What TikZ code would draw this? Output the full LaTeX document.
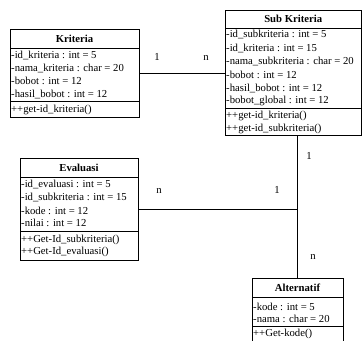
\documentclass[tikz,border=0pt]{standalone}
\usepackage{fontspec}
\setmainfont{Liberation Serif}
\begin{document}
\begin{tikzpicture}[x=1pt,y=-1pt,
 cls/.style={draw, line width=0.8pt, inner sep=0pt, outer sep=0pt},
 sepline/.style={line width=0.8pt},
 conn/.style={line width=0.8pt},
 ttl/.style={font=\fontsize{10.7}{13}\selectfont\bfseries, inner sep=0pt},
 row/.style={font=\fontsize{10.7}{13}\selectfont, inner sep=0pt, anchor=west},
 mult/.style={font=\fontsize{10.7}{13}\selectfont, inner sep=0pt}]
\useasboundingbox (0,0) rectangle (363,340);
\begin{scope}
\clip (0,0) rectangle (363,340);
% Kriteria
\node[cls, minimum width=129pt, minimum height=88pt] (krit) at (74.5,73) {};
\node[ttl] (kt) at (74.5,38.5) {Kriteria};
\draw[sepline] (krit.west |- 0,48) -- (krit.east |- 0,48);
\node[row] (k1) at (11,55) {-id\_kriteria : int = 5};
\node[row] (k2) at (11,68) {-nama\_kriteria : char = 20};
\node[row] (k3) at (11,81) {-bobot : int = 12};
\node[row] (k4) at (11,94) {-hasil\_bobot : int = 12};
\draw[sepline] (krit.west |- 0,101.5) -- (krit.east |- 0,101.5);
\node[row] (k5) at (11,109.5) {++get-id\_kriteria()};
% Sub Kriteria
\node[cls, minimum width=136.5pt, minimum height=125pt] (sub) at (293.25,72.5) {};
\node[ttl] (st) at (293.25,19) {Sub Kriteria};
\draw[sepline] (sub.west |- 0,28) -- (sub.east |- 0,28);
\node[row] (s1) at (226,34.5) {-id\_subkriteria : int = 5};
\node[row] (s2) at (226,48) {-id\_kriteria : int = 15};
\node[row] (s3) at (226,61.5) {-nama\_subkriteria : char = 20};
\node[row] (s4) at (226,75) {-bobot : int = 12};
\node[row] (s5) at (226,88) {-hasil\_bobot : int = 12};
\node[row] (s6) at (226,101) {-bobot\_global : int = 12};
\draw[sepline] (sub.west |- 0,108) -- (sub.east |- 0,108);
\node[row] (s7) at (226,116) {++get-id\_kriteria()};
\node[row] (s8) at (226,128.5) {++get-id\_subkriteria()};
% Evaluasi
\node[cls, minimum width=118pt, minimum height=102pt] (eval) at (79,209) {};
\node[ttl] (et) at (79,167.5) {Evaluasi};
\draw[sepline] (eval.west |- 0,177) -- (eval.east |- 0,177);
\node[row] (e1) at (21,184.5) {-id\_evaluasi : int = 5};
\node[row] (e2) at (21,197.5) {-id\_subkriteria : int = 15};
\node[row] (e3) at (21,210.5) {-kode : int = 12};
\node[row] (e4) at (21,223) {-nilai : int = 12};
\draw[sepline] (eval.west |- 0,231.5) -- (eval.east |- 0,231.5);
\node[row] (e5) at (21,239.5) {++Get-Id\_subkriteria()};
\node[row] (e6) at (21,251.5) {++Get-Id\_evaluasi()};
% Alternatif
\node[cls, minimum width=91pt, minimum height=68pt] (alt) at (297.5,312) {};
\node[ttl] (at) at (297.5,287.5) {Alternatif};
\draw[sepline] (alt.west |- 0,297) -- (alt.east |- 0,297);
\node[row] (a1) at (253,307) {-kode : int = 5};
\node[row] (a2) at (253,319) {-nama : char = 20};
\draw[sepline] (alt.west |- 0,326.5) -- (alt.east |- 0,326.5);
\node[row] (a3) at (253,334) {++Get-kode()};
% connectors
\draw[conn] (krit.east) -- (krit.east -| sub.west);
\draw[conn] (alt.north) -- (alt.north |- sub.south);
\draw[conn] (eval.east) -- (eval.east -| alt.north);
% multiplicities
\node[mult] (m1) at (157,57) {1};
\node[mult] (m2) at (206,58) {n};
\node[mult] (m3) at (309,156) {1};
\node[mult] (m4) at (159,191) {n};
\node[mult] (m5) at (277,190) {1};
\node[mult] (m6) at (313,257) {n};
\end{scope}
\end{tikzpicture}
\end{document}
